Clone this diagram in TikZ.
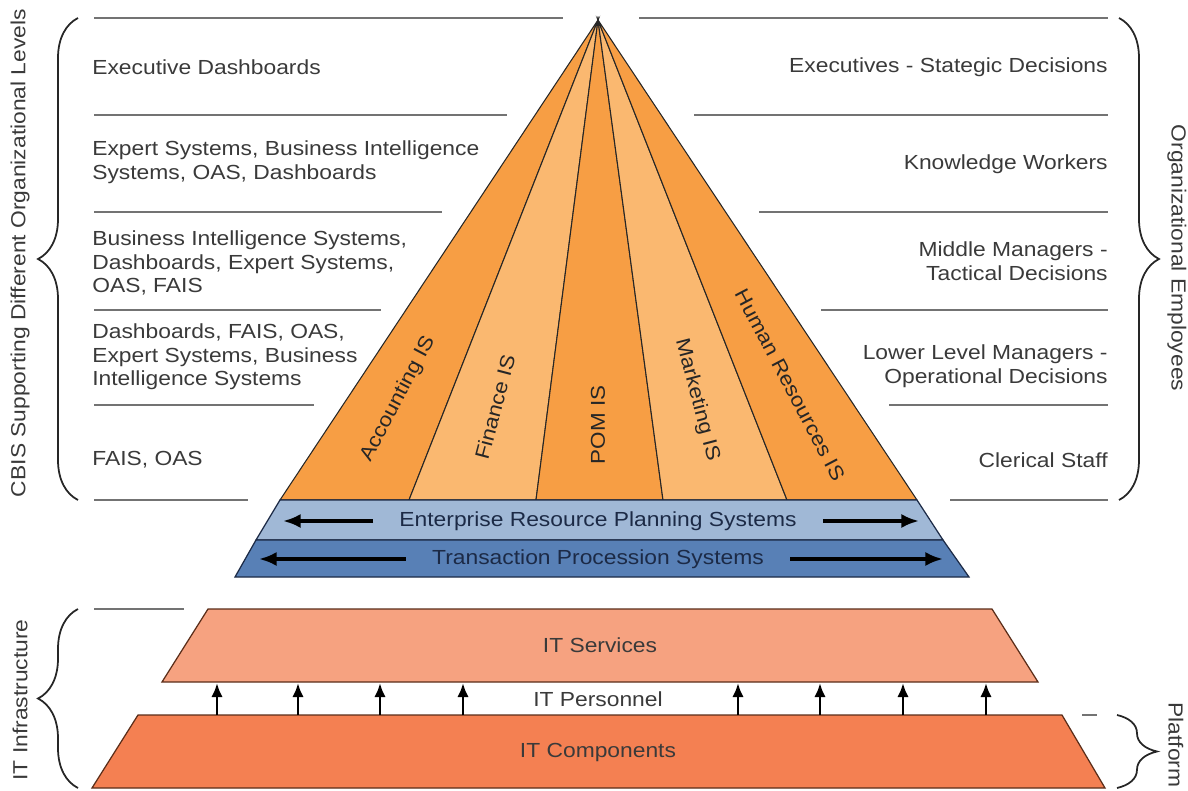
\documentclass[tikz,border=0pt]{standalone}
\usepackage{fontspec}
\setmainfont{Liberation Sans}[FakeStretch=1.12]
\usetikzlibrary{arrows.meta,decorations.pathreplacing}
\definecolor{orangeD}{RGB}{247,158,68}
\definecolor{orangeL}{RGB}{250,184,112}
\definecolor{erpblue}{RGB}{160,184,214}
\definecolor{tpsblue}{RGB}{88,128,182}
\definecolor{navy}{RGB}{28,42,70}
\definecolor{servfill}{RGB}{246,162,128}
\definecolor{compfill}{RGB}{244,128,82}
\definecolor{edgebrown}{RGB}{90,45,25}
\definecolor{txtgray}{RGB}{58,58,58}
\definecolor{rulegray}{RGB}{115,115,115}
\begin{document}
\begin{tikzpicture}[x=0.02cm, y=-0.02cm,
    every node/.style={font=\fontsize{11.6}{13.4}\selectfont, text=txtgray, inner sep=0pt},
    level/.style={draw=rulegray, line width=1pt},
    slice/.style={draw=black!85, line width=0.6pt},
    band/.style={draw=navy, line width=0.7pt},
    block/.style={draw=edgebrown, line width=0.7pt},
    isname/.style={font=\fontsize{11.4}{13}\selectfont, text=black!85},
    bandtext/.style={text=navy, inner xsep=0.52cm},
    bandarrow/.style={-{Latex[length=10pt,width=8pt]}, line width=2pt, black},
    uparrow/.style={-{Latex[length=8pt,width=6.5pt]}, line width=1.5pt, black},
    curly/.style={decorate, decoration={brace, amplitude=0.8cm}, draw=black!85, line width=1pt}]
  \useasboundingbox (0,0) rectangle (1188,791);

  \coordinate (apex) at (598,20);
  \foreach \x [count=\i from 0] in {280,409,536,663,787,917}
    \coordinate (b\i) at (\x,500);
  \foreach \i/\j/\c in {0/1/orangeD, 1/2/orangeL, 2/3/orangeD, 3/4/orangeL, 4/5/orangeD}
    \filldraw[slice, fill=\c] (apex) -- (b\i) -- (b\j) -- cycle;

  \node[isname, rotate=62.2] (acc) at (398,399) {Accounting IS};
  \node[isname, rotate=75.2] (fin) at (495,407) {Finance IS};
  \node[isname, rotate=90] (pom) at (598,425) {POM IS};
  \node[isname, rotate=-75.2] (mkt) at (697,400) {Marketing IS};
  \node[isname, rotate=-62.2] (hr) at (790,385) {Human Resources IS};

  \coordinate (e0) at (256,540);
  \coordinate (e1) at (943,540);
  \coordinate (t0) at (235,577);
  \coordinate (t1) at (969,577);
  \filldraw[band, fill=erpblue] (b0) -- (b5) -- (e1) -- (e0) -- cycle;
  \filldraw[band, fill=tpsblue] (e0) -- (e1) -- (t1) -- (t0) -- cycle;

  \node[bandtext] (erp) at (598,521) {Enterprise Resource Planning Systems};
  \node[bandtext] (tps) at (598,559) {Transaction Procession Systems};
  \coordinate (erpL) at (283,521);
  \coordinate (erpR) at (919,521);
  \coordinate (tpsL) at (259,559);
  \coordinate (tpsR) at (943,559);
  \draw[bandarrow] (erp.west) -- (erpL);
  \draw[bandarrow] (erp.east) -- (erpR);
  \draw[bandarrow] (tps.west) -- (tpsL);
  \draw[bandarrow] (tps.east) -- (tpsR);

  \foreach \y/\xe in {18/563, 115/507, 212/442, 310/381, 405/314, 500/248}
    \draw[level] (94,\y) -- (\xe,\y);
  \foreach \y/\xs in {18/639, 115/694, 212/759, 310/821, 405/889, 500/950}
    \draw[level] (\xs,\y) -- (1108,\y);

  \node[anchor=west, align=left] (l1) at (92,67) {Executive Dashboards};
  \node[anchor=west, align=left] (l2) at (92,162) {Expert Systems, Business Intelligence\\Systems, OAS, Dashboards};
  \node[anchor=west, align=left] (l3) at (92,263) {Business Intelligence Systems,\\Dashboards, Expert Systems,\\OAS, FAIS};
  \node[anchor=west, align=left] (l4) at (92,357) {Dashboards, FAIS, OAS,\\Expert Systems, Business\\Intelligence Systems};
  \node[anchor=west, align=left] (l5) at (92,460) {FAIS, OAS};

  \node[anchor=east, align=right] (r1) at (1108,67) {Executives - Stategic Decisions};
  \node[anchor=east, align=right] (r2) at (1108,164) {Knowledge Workers};
  \node[anchor=east, align=right] (r3) at (1108,261) {Middle Managers -\\Tactical Decisions};
  \node[anchor=east, align=right] (r4) at (1108,366) {Lower Level Managers -\\Operational Decisions};
  \node[anchor=east, align=right] (r5) at (1108,460) {Clerical Staff};

  \draw[curly] (78,500) -- (78,18);
  \draw[curly] (1119,18) -- (1119,500);
  \node[rotate=90] (cbis) at (20,253) {CBIS Supporting Different Organizational Levels};
  \node[rotate=-90] (orgemp) at (1177,258) {Organizational Employees};

  \filldraw[block, fill=servfill] (208,609) -- (992,609) -- (1038,682) -- (162,682) -- cycle;
  \filldraw[block, fill=compfill] (138,715) -- (1062,715) -- (1105,788) -- (92,788) -- cycle;
  \node (serv) at (600,645) {IT Services};
  \node (pers) at (598,699) {IT Personnel};
  \node (comp) at (598,752) {IT Components};
  \foreach \x [count=\i] in {217,298,380,463,738,820,903,986} {
    \coordinate (pb\i) at (\x,715);
    \coordinate (pt\i) at (\x,683);
    \draw[uparrow] (pb\i) -- (pt\i);
  }

  \draw[level] (94,609) -- (184,609);
  \draw[level] (1082,715) -- (1097,715);
  \draw[curly] (78,788) -- (78,609);
  \draw[curly] (1117,715) -- (1117,788);
  \node[rotate=90] (itinf) at (20,700) {IT Infrastructure};
  \node[rotate=-90] (platf) at (1176,745) {Platform};
\end{tikzpicture}
\end{document}
